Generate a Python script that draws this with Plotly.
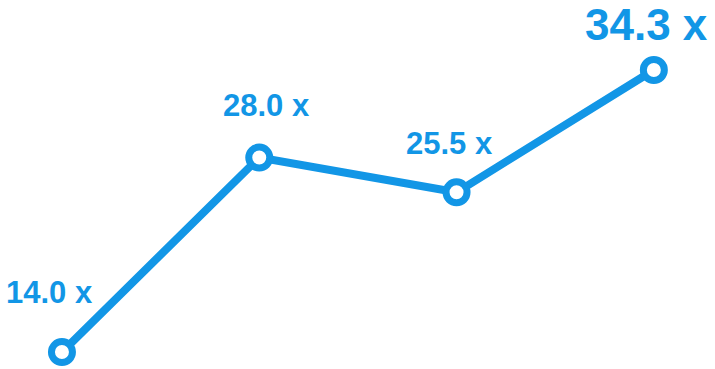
import plotly.graph_objects as go

categories = [0, 1, 2, 3]
values = [14.0, 28.0, 25.5, 34.3]
labels = ["14.0 x", "28.0 x", "25.5 x", "34.3 x"]

COLOR = "#1296e6"

fig = go.Figure()
fig.add_trace(go.Scatter(
    x=categories, y=values, mode="lines+markers",
    line=dict(color=COLOR, width=8),
    marker=dict(size=21, color="white", line=dict(color=COLOR, width=7)),
    cliponaxis=False, hoverinfo="skip",
))

shifts = [(-12, 60), (7, 52), (-7, 49), (-7, 46)]
sizes = [31, 31, 31, 44]
for c, v, t, (dx, dy), s in zip(categories, values, labels, shifts, sizes):
    fig.add_annotation(x=c, y=v, text=f"<b>{t}</b>", showarrow=False,
                       xshift=dx, yshift=dy, borderpad=0,
                       font=dict(family="Liberation Sans, Arial", size=s, color=COLOR))

fig.update_layout(
    width=715, height=369, margin=dict(l=0, r=0, t=0, b=0),
    paper_bgcolor="white", plot_bgcolor="white", showlegend=False,
    xaxis=dict(range=[-0.314, 3.31], visible=False),
    yaxis=dict(range=[12.78, 39.34], visible=False),
)
fig.write_html("out.html")
